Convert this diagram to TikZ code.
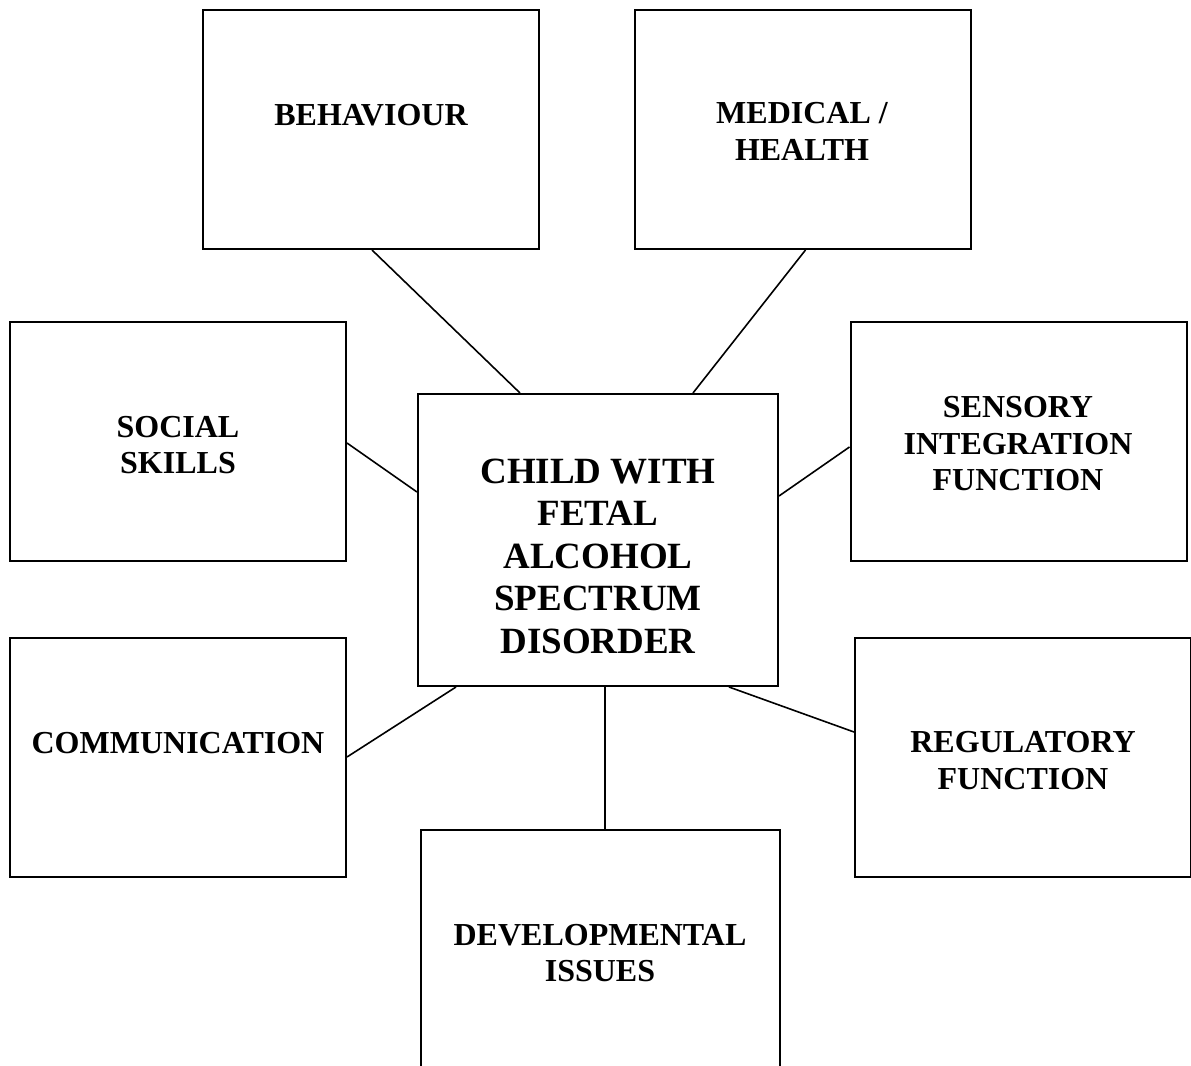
\documentclass[tikz,border=0pt]{standalone}
\usepackage{fontspec}
\setmainfont{Liberation Serif}
\begin{document}
\begin{tikzpicture}[x=0.5pt,y=-0.5pt,
  box/.style={draw, line width=1pt, inner sep=0pt, minimum width=168pt, minimum height=119.5pt},
  bigbox/.style={draw, line width=1pt, inner sep=0pt, minimum width=180pt, minimum height=146pt},
  lbl/.style={align=center, inner sep=0pt, font=\bfseries\fontsize{16}{18.25}\selectfont},
  biglbl/.style={align=center, inner sep=0pt, font=\bfseries\fontsize{18.5}{21.25}\selectfont},
  conn/.style={line width=0.8pt}]
\path[use as bounding box, clip] (0,0) rectangle (1191,1066);
\fill[white] (0,0) rectangle (1191,1066);
% boxes
\node[box] (beh) at (371,129.5) {};
\node[box] (med) at (802.5,129.5) {};
\node[box] (soc) at (178,441.5) {};
\node[box] (sen) at (1018.5,441.5) {};
\node[bigbox] (cen) at (598,540) {};
\node[box] (com) at (178,757.5) {};
\node[box] (reg) at (1023,757.5) {};
\node[draw, line width=1pt, inner sep=0pt, minimum width=179.5pt, minimum height=130pt] (dev) at (600.5,960) {};
% labels
\node[lbl] (tbeh) at (371,115) {BEHAVIOUR};
\node[lbl] (tmed) at (802,131.5) {MEDICAL /\\HEALTH};
\node[lbl] (tsoc) at (178,445) {SOCIAL\\SKILLS};
\node[lbl] (tsen) at (1018,444) {SENSORY\\INTEGRATION\\FUNCTION};
\node[biglbl] (tcen) at (598,556) {CHILD WITH\\FETAL\\ALCOHOL\\SPECTRUM\\DISORDER};
\node[lbl] (tcom) at (178,743) {COMMUNICATION};
\node[lbl] (treg) at (1023,760.5) {REGULATORY\\FUNCTION};
\node[lbl] (tdev) at (600,953) {DEVELOPMENTAL\\ISSUES};
% connectors
\draw[conn] ([xshift=85pt]beh.south west) -- ([xshift=51.5pt]cen.north west);
\draw[conn] ([xshift=86pt]med.south west) -- ([xshift=138pt]cen.north west);
\draw[conn] ([yshift=-61pt]soc.north east) -- ([yshift=-49.5pt]cen.north west);
\draw[conn] ([yshift=-63pt]sen.north west) -- ([yshift=-51.5pt]cen.north east);
\draw[conn] ([yshift=-60pt]com.north east) -- ([xshift=19.5pt]cen.south west);
\draw[conn] ([yshift=-47.5pt]reg.north west) -- ([xshift=156pt]cen.south west);
\draw[conn] ([xshift=94pt]cen.south west) -- ([xshift=92.5pt]dev.north west);
\end{tikzpicture}
\end{document}
